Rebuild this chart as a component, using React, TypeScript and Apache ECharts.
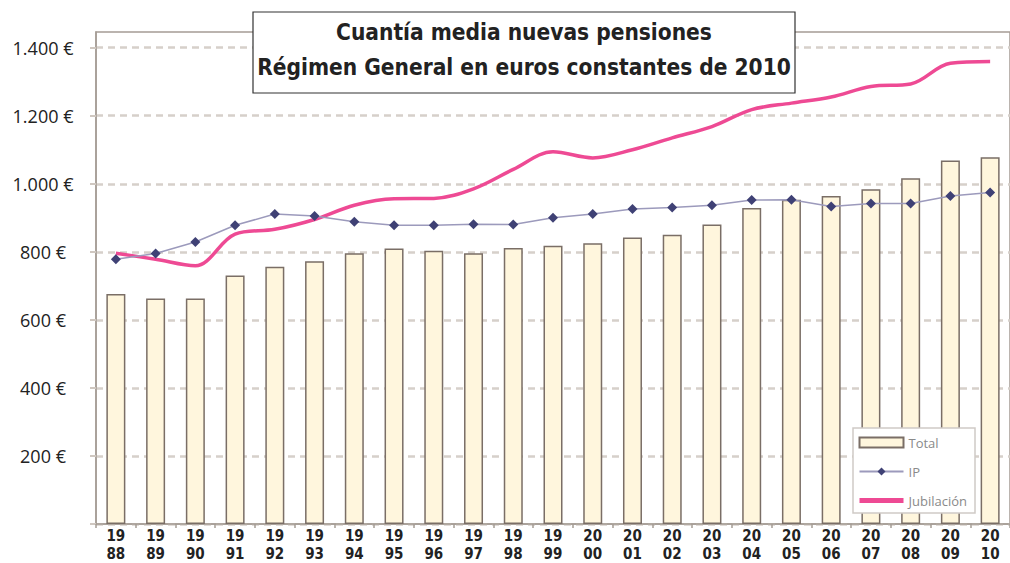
import React, { useEffect, useRef } from "react";
import * as echarts from "echarts";

const years = ["1988","1989","1990","1991","1992","1993","1994","1995","1996","1997","1998","1999","2000","2001","2002","2003","2004","2005","2006","2007","2008","2009","2010"];
const total = [676,663,663,730,756,772,796,810,803,796,811,818,825,842,850,880,929,953,964,984,1016,1068,1078];
const ip = [778,795,829,878,911,905,888,878,878,881,880,900,911,926,930,937,952,953,933,942,942,964,974];
const jubilacion = [796,778,759,852,866,895,937,956,957,985,1042,1094,1076,1100,1135,1168,1218,1237,1255,1286,1293,1354,1359];
const yTicks = [0,200,400,600,800,1000,1200,1400];
const titleLines = ["Cuantía media nuevas pensiones", "Régimen General en euros constantes de 2010"];

const condensed = "'Liberation Sans Narrow', 'DejaVu Sans Condensed', 'Open Sans', sans-serif";

function fmtEuro(v: number): string {
  if (v === 0 || yTicks.indexOf(v) < 0) return "";
  const s = String(v);
  const t = s.length > 3 ? s.slice(0, s.length - 3) + "." + s.slice(s.length - 3) : s;
  return t + " €";
}

export default function App() {
  const ref = useRef<HTMLDivElement>(null);
  useEffect(() => {
    if (!ref.current) return;
    const chart = echarts.init(ref.current, null, { renderer: "svg" });
    chart.setOption({
      animation: false,
      backgroundColor: "#ffffff",
      grid: {
        left: 96,
        top: 32,
        width: 927,
        height: 494,
        show: true,
        borderColor: "#a59c95",
        borderWidth: 1.5,
        backgroundColor: "transparent",
      },
      xAxis: {
        type: "category",
        data: years,
        boundaryGap: true,
        axisLine: { show: true, lineStyle: { color: "#a59c95", width: 1.5 } },
        axisTick: { show: true, length: 4, alignWithLabel: false, lineStyle: { color: "#a59c95", width: 1.5 } },
        axisLabel: {
          interval: 0,
          margin: 3,
          fontSize: 15,
          fontWeight: "bold",
          lineHeight: 18,
          color: "#222222",
          fontFamily: condensed,
          formatter: (v: string) => v.slice(0, 2) + "\n" + v.slice(2),
        },
      },
      yAxis: {
        type: "value",
        min: 0,
        max: 1446,
        interval: 200,
        axisLine: { show: true, lineStyle: { color: "#a59c95", width: 1.5 } },
        axisTick: { show: true, length: 6, lineStyle: { color: "#cfc7c0", width: 2 } },
        splitLine: {
          show: true,
          showMaxLine: false,
          lineStyle: { color: "#d6d0ca", width: 2.5, type: [7, 5] },
        },
        axisLabel: {
          showMaxLabel: false,
          align: "center",
          margin: 53,
          fontSize: 18,
          color: "#222222",
          fontFamily: "'Open Sans', sans-serif",
          formatter: (v: number) => fmtEuro(v),
        },
      },
      legend: {
        orient: "vertical",
        left: 853,
        top: 428,
        width: 132,
        padding: [8, 8, 6, 4],
        itemWidth: 44,
        itemHeight: 10,
        itemGap: 16,
        backgroundColor: "#ffffff",
        borderColor: "#cfcac6",
        borderWidth: 1.5,
        textStyle: { color: "#8a8a8a", fontSize: 13, fontFamily: "'Open Sans', sans-serif" },
        data: [
          { name: "Total", icon: "rect" },
          { name: "IP", lineStyle: { width: 2 } },
          { name: "Jubilación", itemStyle: { opacity: 0 }, lineStyle: { width: 5 } },
        ],
      },
      series: [
        {
          name: "Total",
          type: "bar",
          data: total,
          barWidth: 19,
          itemStyle: { color: "#fff6dd", borderColor: "#7a6e66", borderWidth: 1.5 },
          z: 2,
        },
        {
          name: "Jubilación",
          type: "line",
          data: jubilacion,
          smooth: 0.35,
          symbol: "none",
          lineStyle: { color: "#ee4a94", width: 3.5 },
          itemStyle: { color: "#ee4a94" },
          z: 3,
        },
        {
          name: "IP",
          type: "line",
          data: ip,
          symbol: "diamond",
          symbolSize: 10,
          lineStyle: { color: "#9c9abc", width: 1.5 },
          itemStyle: { color: "#3f4175" },
          z: 4,
        },
      ],
      graphic: [
        {
          type: "rect",
          shape: { x: 253, y: 12, width: 542, height: 81 },
          style: { fill: "#ffffff", stroke: "#333333", lineWidth: 1.2 },
          z: 100,
        },
        {
          type: "text",
          x: 524,
          y: 32,
          style: {
            text: titleLines[0],
            fontSize: 22.5,
            fontWeight: "bold",
            fontFamily: condensed,
            fill: "#222222",
            align: "center",
            verticalAlign: "middle",
          },
          z: 101,
        },
        {
          type: "text",
          x: 524,
          y: 67,
          style: {
            text: titleLines[1],
            fontSize: 22.5,
            fontWeight: "bold",
            fontFamily: condensed,
            fill: "#222222",
            align: "center",
            verticalAlign: "middle",
          },
          z: 101,
        },
      ],
    });
    return () => chart.dispose();
  }, []);
  return (
    <div
      ref={ref}
      style={{ position: "fixed", left: 0, top: 0, width: 1010, height: 563, background: "#fff" }}
    />
  );
}
